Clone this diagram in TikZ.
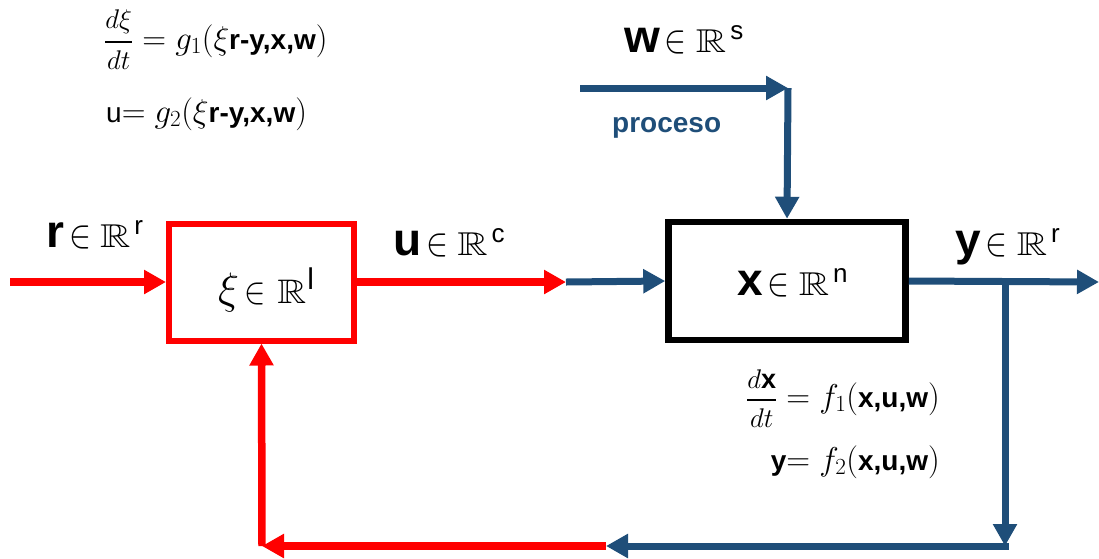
\RequirePackage{fix-cm}
\documentclass[tikz,border=0pt]{standalone}
\usepackage{amsmath,amssymb}
\usepackage{graphicx}
\usepackage{fontspec}
\setmainfont{Liberation Sans}
\usetikzlibrary{arrows.meta}
\definecolor{pblue}{RGB}{31,78,121}
\definecolor{pred}{RGB}{255,0,0}
\newcommand\bigin{{\fontsize{10}{10}\selectfont\scalebox{3.3}[4.0]{$\in$}}}
\newcommand\bigR{{\fontsize{20}{20}\selectfont\scalebox{2.1}[1.65]{$\mathbb{R}$}}}
\newcommand\vlab[2]{{\fontsize{46}{46}\selectfont\bfseries #1}\hspace{5pt}\bigin\hspace{9pt}\bigR\hspace{4pt}\raisebox{13pt}{\fontsize{26}{26}\selectfont #2}}
\tikzset{
  tip/.style={-{Triangle[length=22pt,width=23pt]}},
  redline/.style={draw=pred,line width=7.5pt},
  blueline/.style={draw=pblue,line width=7pt},
  redbox/.style={draw=pred,line width=6pt,minimum width=185pt,minimum height=117pt,inner sep=0pt},
  blackbox/.style={draw=black,line width=6.5pt,minimum width=237pt,minimum height=118pt,inner sep=0pt},
  lab/.style={inner sep=0pt,anchor=base west},
  eq/.style={inner sep=0pt,font=\fontsize{33}{33}\selectfont},
}
\newcommand\tb[1]{{\fontsize{28}{28}\selectfont\bfseries #1}}
\newcommand\fr[2]{{\fontsize{27}{27}\selectfont$\displaystyle{#1\above2.4pt #2}$}}
\begin{document}
\begin{tikzpicture}[x=1pt,y=-1pt]
\useasboundingbox (0,0) rectangle (1099,558);
% blocks
\node[redbox] (ctrl) at (261.5,282) {};
\node[blackbox] (plant) at (787,281) {};
% coordinates
\coordinate (rin) at (10,282);
\coordinate (uend) at (566,282);
\coordinate (win) at (580,88);
\coordinate (wc) at (788,88);
\coordinate (yout) at (1099,282);
\coordinate (br) at (1005,282);
\coordinate (bc) at (1005,546);
\coordinate (mid) at (606,546);
\coordinate (lc) at (262,546);
% red paths
\draw[redline,tip] (rin) -- (ctrl.west);
\draw[redline,tip] (ctrl.east) -- (uend);
\draw[redline,tip] (mid) -- (lc);
\draw[redline,tip] (lc) -- (ctrl.south);
% blue paths
\draw[blueline,tip] (uend) -- (plant.west);
\draw[blueline,tip] (win) -- (wc);
\draw[blueline,tip] (wc) -- (plant.north);
\draw[blueline,tip] (plant.east) -- (yout);
\draw[blueline,tip] (br) -- (bc);
\draw[blueline,tip] ([xshift=3.5pt]bc) -- (mid);
% labels
\node[lab] (rl) at (46,247) {\vlab{r}{r}};
\node[lab] (ul) at (393,255) {\vlab{u}{c}};
\node[lab] (wl) at (624,52) {\vlab{w}{s}};
\node[lab] (xl) at (737,295) {\vlab{x}{n}};
\node[lab] (yl) at (955,255) {\vlab{y}{r}};
\node[lab] (xil) at (218,303) {{\fontsize{44}{44}\selectfont$\xi$}\hspace{5pt}{\fontsize{10}{10}\selectfont\scalebox{3.2}[3.8]{$\in$}}\hspace{12pt}{\fontsize{20}{20}\selectfont\scalebox{2.0}[1.7]{$\mathbb{R}$}}\hspace{1pt}\raisebox{14pt}{\fontsize{30}{30}\selectfont l}};
\node[lab,text=pblue,font=\fontsize{28}{28}\selectfont\bfseries] (proc) at (612,132) {proceso};
% equations
\node[eq,anchor=base west] (eq1) at (104,49) {\fr{d\xi}{dt}$\;= g_1(\xi$\tb{r-y,x,w}$)$};
\node[eq,anchor=base west] (eq2) at (106,122) {{\fontsize{28}{28}\selectfont u}$= g_2(\xi$\tb{r-y,x,w}$)$};
\node[eq,anchor=base east] (eq3) at (940,407) {\fr{d\mathbf{x}}{dt}$\;= f_1($\tb{x,u,w}$)$};
\node[eq,anchor=base east] (eq4) at (940,470) {\tb{y}$= f_2($\tb{x,u,w}$)$};
\end{tikzpicture}
\end{document}
